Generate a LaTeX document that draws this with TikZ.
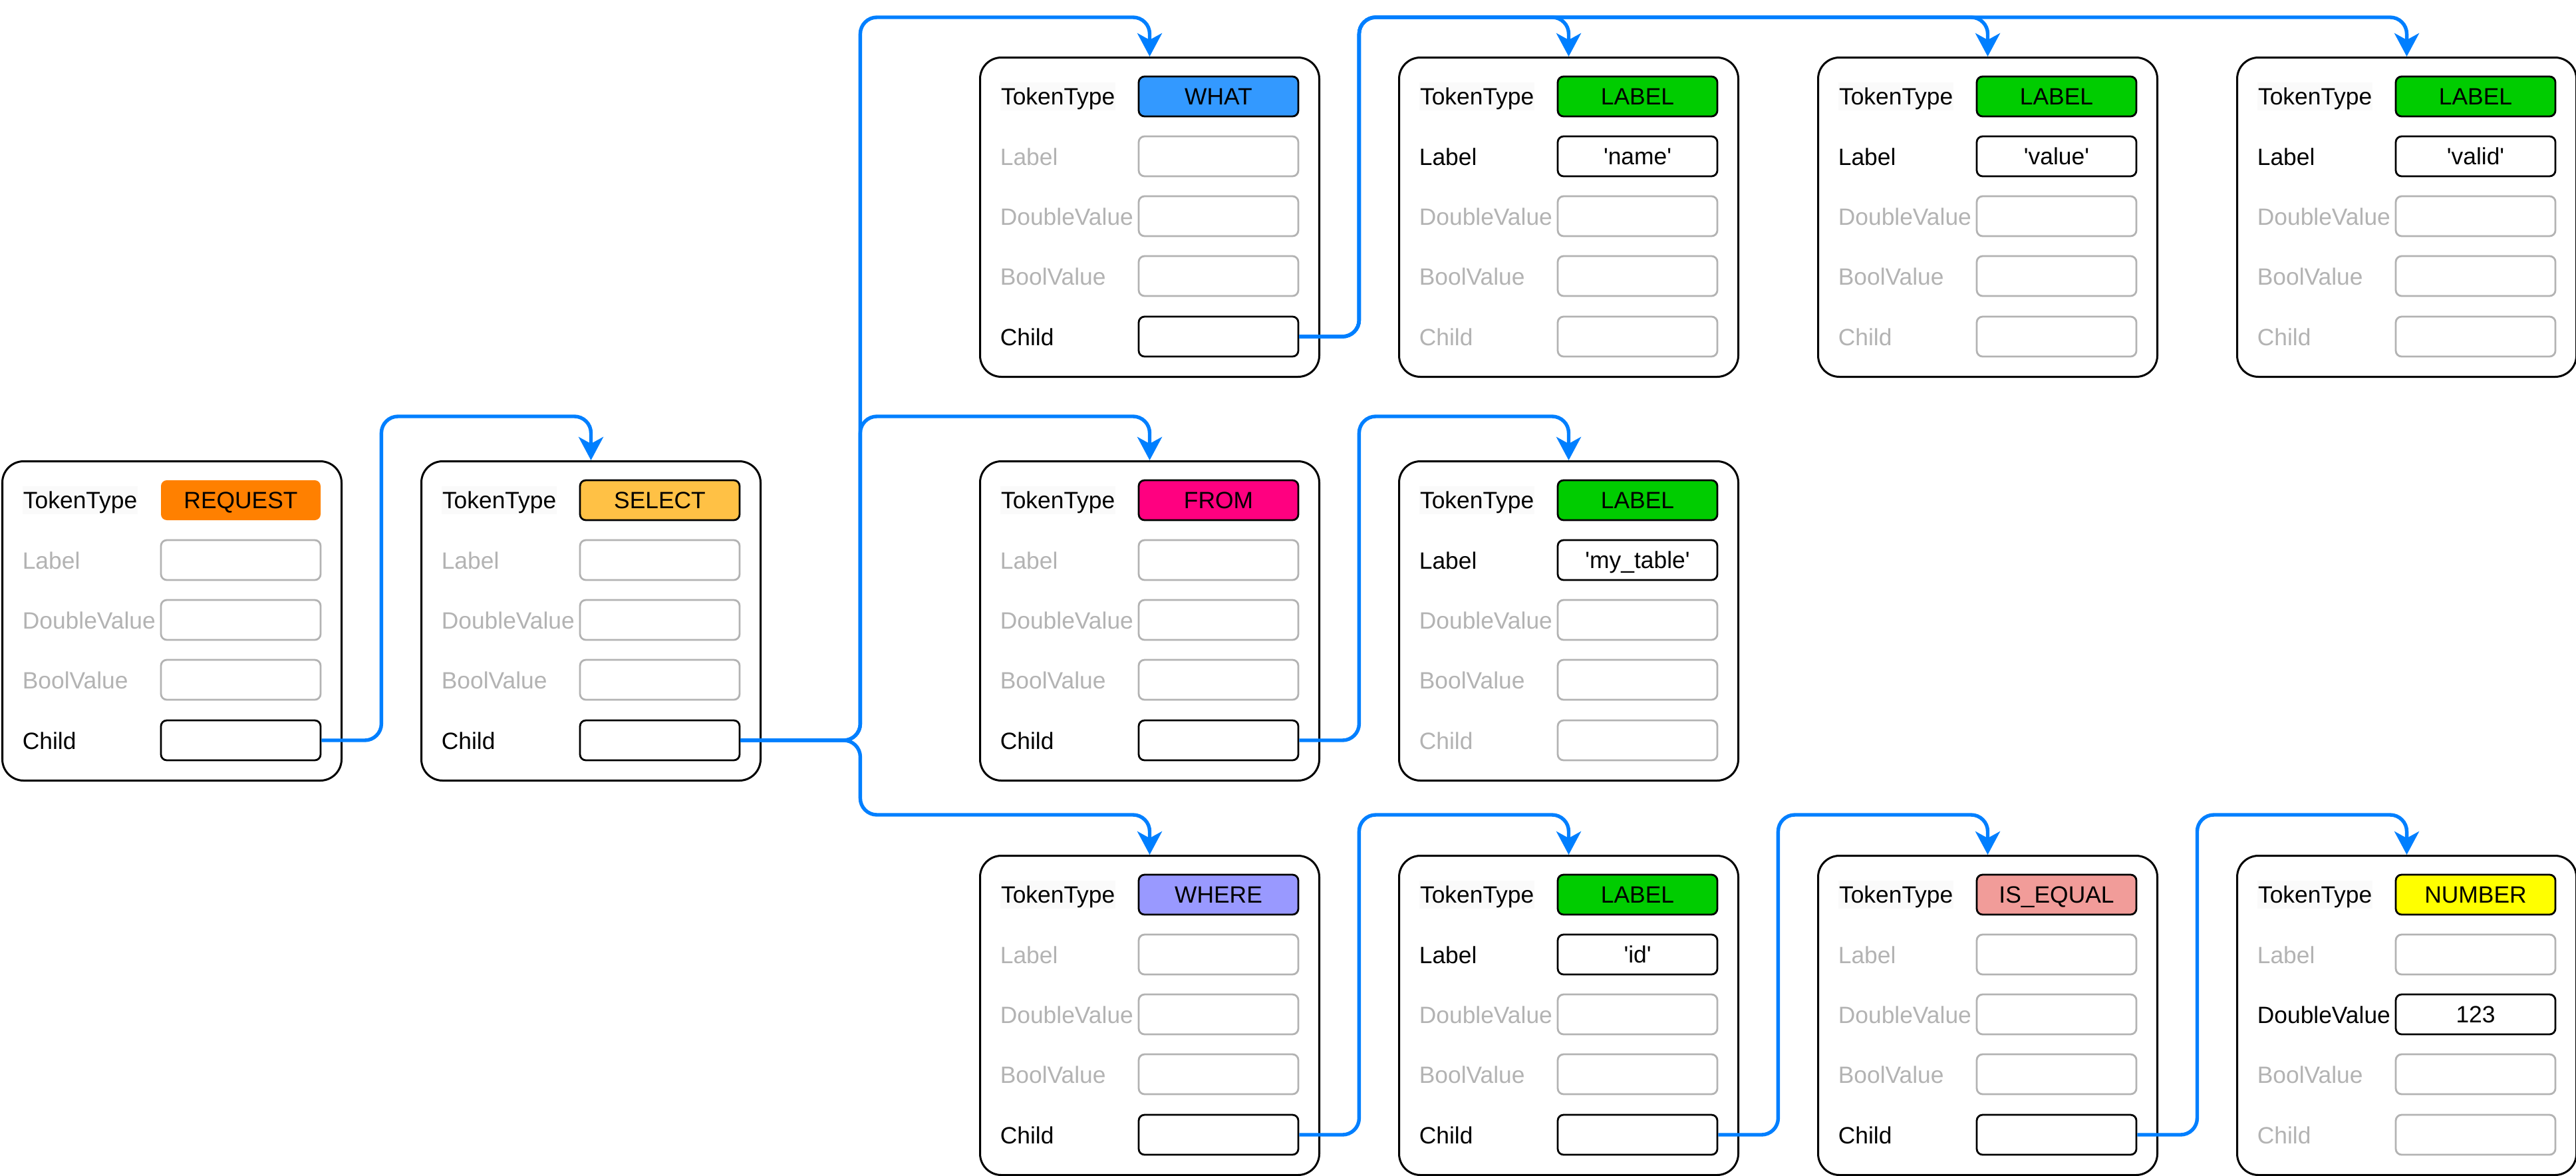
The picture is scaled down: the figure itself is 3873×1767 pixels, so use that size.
\documentclass[tikz,border=0pt]{standalone}
\usepackage{fontspec}
\setmainfont{Liberation Sans}
\usetikzlibrary{arrows.meta,calc}
\definecolor{edgeblue}{HTML}{007FFF}
\definecolor{fieldgray}{HTML}{B3B3B3}
\definecolor{ttbg}{HTML}{FAFAFA}
\definecolor{creq}{HTML}{FF8000}
\definecolor{csel}{HTML}{FFC145}
\definecolor{cwhat}{HTML}{3399FF}
\definecolor{clabel}{HTML}{00CC00}
\definecolor{cfrom}{HTML}{FF0080}
\definecolor{cwhere}{HTML}{9999FF}
\definecolor{ciseq}{HTML}{F19C99}
\definecolor{cnum}{HTML}{FFFF00}
\newcommand\fs{\fontsize{8.85pt}{10pt}\selectfont}
\newcommand\q{\textquotesingle}
\newcommand\on{}
\tikzset{
  card/.style={draw=black, line width=0.75pt, rounded corners=8pt, minimum width=127.5pt, minimum height=120pt, inner sep=0pt, anchor=north west, fill=white},
  vbox/.style={draw=black, line width=0.7pt, rounded corners=2.2pt, minimum width=60pt, minimum height=15pt, inner sep=0pt, font=\fs, text height=6.3pt, text depth=0pt},
  offbox/.style={vbox, draw=fieldgray},
  lab/.style={anchor=west, inner sep=0pt, font=\fs, text height=6.3pt, text depth=0pt},
  offlab/.style={lab, text=fieldgray},
  ttlab/.style={lab, fill=ttbg, inner xsep=0.3pt, inner ysep=2.2pt},
  edge/.style={draw=edgeblue, line width=1.35pt, rounded corners=6.25pt, -{Stealth[length=8.75pt, width=9.25pt, inset=2.5pt]}},
}
\newcommand\fieldrow[6]{%
  \ifx\relax#6\relax
    \node[offlab] (#1-#2l) at (#3+31,#4+1) {#5};
    \node[offbox] (#1-#2) at (#3+360,#4) {};
  \else
    \node[lab] (#1-#2l) at (#3+31,#4+1) {#5};
    \node[vbox] (#1-#2) at (#3+360,#4) {#6};
  \fi}
\newcommand\tcard[9]{%
  \node[card] (#1) at (#2,#3) {};
  \node[ttlab] (#1-tl) at (#2+31,#3+60) {TokenType};
  \node[vbox,#4] (#1-t) at (#2+360,#3+60) {#5};
  \fieldrow{#1}{l}{#2}{#3+150}{Label}{#6}
  \fieldrow{#1}{d}{#2}{#3+240}{DoubleValue}{#7}
  \fieldrow{#1}{b}{#2}{#3+330}{BoolValue}{#8}
  \fieldrow{#1}{c}{#2}{#3+421}{Child}{#9}
}
\begin{document}
\begin{tikzpicture}[x=0.25pt, y=-0.25pt]
\useasboundingbox (0,0) rectangle (3873,1767);
\tcard{req}{2}{692}{fill=creq,draw=none}{REQUEST}{}{}{}{\on}
\tcard{sel}{632}{692}{fill=csel}{SELECT}{}{}{}{\on}
\tcard{what}{1472}{85}{fill=cwhat}{WHAT}{}{}{}{\on}
\tcard{lname}{2102}{85}{fill=clabel}{LABEL}{\q name\q}{}{}{}
\tcard{lvalue}{2732}{85}{fill=clabel}{LABEL}{\q value\q}{}{}{}
\tcard{lvalid}{3362}{85}{fill=clabel}{LABEL}{\q valid\q}{}{}{}
\tcard{from}{1472}{692}{fill=cfrom}{FROM}{}{}{}{\on}
\tcard{ltab}{2102}{692}{fill=clabel}{LABEL}{\q my\_table\q}{}{}{}
\tcard{where}{1472}{1285}{fill=cwhere}{WHERE}{}{}{}{\on}
\tcard{lid}{2102}{1285}{fill=clabel}{LABEL}{\q id\q}{}{}{\on}
\tcard{iseq}{2732}{1285}{fill=ciseq}{IS\_EQUAL}{}{}{}{\on}
\tcard{num}{3362}{1285}{fill=cnum}{NUMBER}{}{123}{}{}
% connectors
\draw[edge] (req-c.east) -- ++(90,0) |- ([yshift=16.5pt]sel.north) -- (sel.north);
\draw[edge] (sel-c.east) -- ++(180,0) |- ([yshift=14.75pt]what.north) -- (what.north);
\draw[edge] (sel-c.east) -- ++(180,0) |- ([yshift=16.5pt]from.north) -- (from.north);
\draw[edge] (sel-c.east) -- ++(180,0) |- ([yshift=15pt]where.north) -- (where.north);
\draw[edge] (what-c.east) -- ++(90,0) |- ([yshift=14.75pt]lname.north) -- (lname.north);
\draw[edge] (what-c.east) -- ++(90,0) |- ([yshift=14.75pt]lvalue.north) -- (lvalue.north);
\draw[edge] (what-c.east) -- ++(90,0) |- ([yshift=14.75pt]lvalid.north) -- (lvalid.north);
\draw[edge] (from-c.east) -- ++(90,0) |- ([yshift=16.5pt]ltab.north) -- (ltab.north);
\draw[edge] (where-c.east) -- ++(90,0) |- ([yshift=15pt]lid.north) -- (lid.north);
\draw[edge] (lid-c.east) -- ++(90,0) |- ([yshift=15pt]iseq.north) -- (iseq.north);
\draw[edge] (iseq-c.east) -- ++(90,0) |- ([yshift=15pt]num.north) -- (num.north);
\end{tikzpicture}
\end{document}
